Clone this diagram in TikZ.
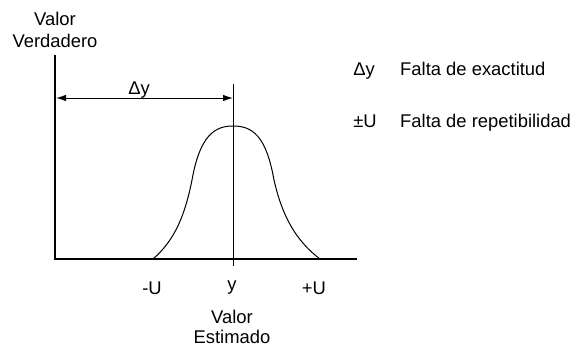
\documentclass[tikz,border=0pt]{standalone}
\usepackage{fontspec}
\setmainfont{Liberation Sans}
\usetikzlibrary{arrows.meta}
\begin{document}
\begin{tikzpicture}[x=1pt,y=-1pt,
  lbl/.style={font=\fontsize{18.4}{20}\selectfont, inner sep=0pt, anchor=base},
  lbll/.style={font=\fontsize{18.4}{20}\selectfont, inner sep=0pt, anchor=base west},
  axis/.style={line width=2pt},
  thin/.style={line width=1pt},
  dim/.style={line width=1pt, {Latex[length=10pt,width=6.5pt]}-{Latex[length=10pt,width=6.5pt]}}]
\useasboundingbox (0,0) rectangle (574,348);
% axes
\coordinate (o) at (55,259);
\coordinate (ytop) at (55,55);
\coordinate (xend) at (357,259);
\draw[axis] (ytop) -- (o) -- (xend);
% center line
\coordinate (ctop) at (233,84);
\coordinate (cbot) at (233,266);
\draw[thin] (ctop) -- (cbot);
% dimension arrow
\coordinate (da) at (56,98);
\coordinate (db) at (233,98);
\draw[dim] (da) -- (db);
\node[lbl] (dy) at (139,94) {Δy};
% curve
\draw[thin] (153,259) .. controls (175,240) and (185,215) .. (192,180)
  .. controls (200,135) and (215,126) .. (233,126)
  .. controls (252,126) and (266,135) .. (274,180)
  .. controls (282,215) and (295,240) .. (320,259);
% labels
\node[lbl] (vv1) at (55,25) {Valor};
\node[lbl] (vv2) at (55,48) {Verdadero};
\node[lbl] (mu) at (152,294) {-U};
\node[lbl] (yy) at (232,290) {y};
\node[lbl] (pu) at (314,294) {+U};
\node[lbl] (ve1) at (232,323) {Valor};
\node[lbl] (ve2) at (232,343) {Estimado};
% legend
\node[lbl] (l1s) at (364,75) {Δy};
\node[lbll] (l1t) at (400,75) {Falta de exactitud};
\node[lbl] (l2s) at (365,127) {±U};
\node[lbll] (l2t) at (400,127) {Falta de repetibilidad};
\end{tikzpicture}
\end{document}
